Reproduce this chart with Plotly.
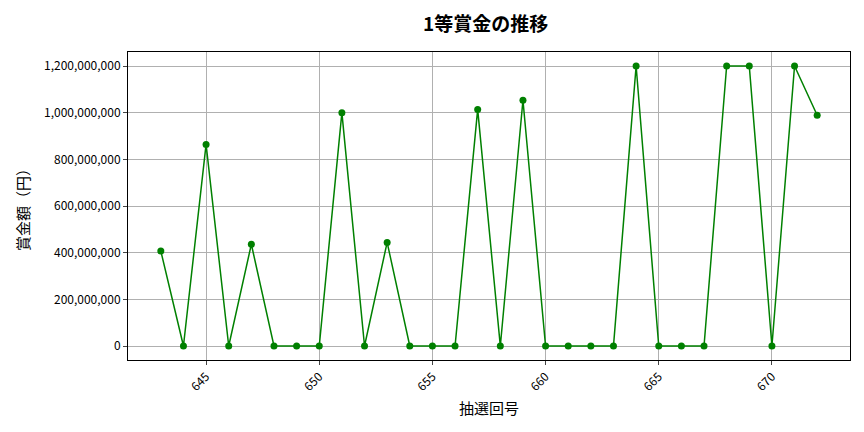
import plotly.graph_objs as go

# 抽選回号と1等賞金
draws = list(range(643, 673))
prizes = [
    407000000, 0, 864000000, 0, 436000000, 0, 0, 0, 1000000000, 0,
    444000000, 0, 0, 0, 1014000000, 0, 1053000000, 0, 0, 0,
    0, 1200000000, 0, 0, 0, 1200000000, 1200000000, 0, 1200000000, 989000000,
]
x_ticks = [645, 650, 655, 660, 665, 670]
y_ticks = [0, 200000000, 400000000, 600000000, 800000000, 1000000000, 1200000000]

jp_font = "Noto Sans CJK JP"
tick_font = dict(family=jp_font, size=12, color="black")

data = [go.Scatter(x=draws, y=prizes, mode="lines+markers",
                   line=dict(color="green", width=1.5),
                   marker=dict(color="green", size=7))]

layout = go.Layout(
    width=856, height=424,
    paper_bgcolor="white", plot_bgcolor="white",
    margin=dict(l=120, r=14, t=44, b=72),
    showlegend=False,
    title=dict(text="<b>1等賞金の推移</b>", x=0.558, xanchor="center", y=0.962, yanchor="middle",
               font=dict(family=jp_font, size=19, color="black")),
    xaxis=dict(range=[641.55, 673.45], tickvals=x_ticks, tickangle=-45,
               tickfont=tick_font, showgrid=True, gridcolor="#b0b0b0", gridwidth=1,
               showline=True, linecolor="black", mirror=True, ticks="outside",
               ticklen=4, zeroline=False,
               title=dict(text="抽選回号", font=dict(family=jp_font, size=15, color="black"), standoff=10)),
    yaxis=dict(range=[-60000000, 1260000000], tickvals=y_ticks, tickformat=",d",
               tickfont=tick_font, showgrid=True, gridcolor="#b0b0b0", gridwidth=1,
               showline=True, linecolor="black", mirror=True, ticks="outside",
               ticklen=4, zeroline=False,
               title=dict(text="賞金額（円）", font=dict(family=jp_font, size=15, color="black"), standoff=10)),
)

fig = go.Figure(data=data, layout=layout)
fig.write_html("out.html")
